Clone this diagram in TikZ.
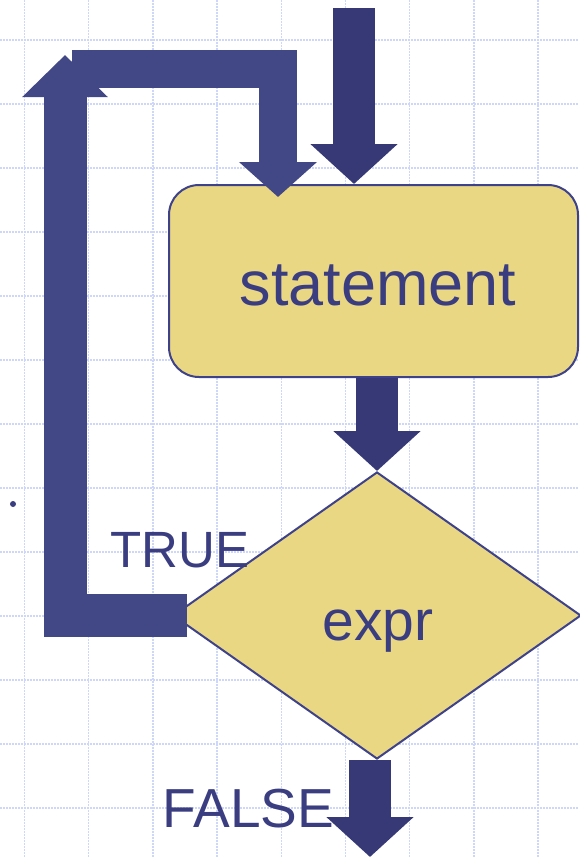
\documentclass[tikz,border=0pt]{standalone}
\usepackage{fontspec}
\setmainfont{Liberation Sans}
\usepackage{tikz}
\usetikzlibrary{arrows.meta,shapes.geometric}

\definecolor{gridc}{RGB}{206,215,250}
\definecolor{navy}{RGB}{54,57,118}
\definecolor{loopc}{RGB}{66,71,133}
\definecolor{boxfill}{RGB}{234,215,132}
\definecolor{boxline}{RGB}{62,66,138}
\definecolor{txt}{RGB}{58,61,128}

\begin{document}
\begin{tikzpicture}[x=1pt,y=-1pt]
            \tikzstyle{box}=[rectangle,rounded corners=30pt,draw=boxline,fill=boxfill,line width=2pt,minimum width=409pt,minimum height=192pt,inner sep=0pt]
            \tikzstyle{choice}=[diamond,draw=boxline,fill=boxfill,line width=2pt,minimum width=408pt,minimum height=287pt,inner sep=0pt]
            \tikzstyle{label}=[text=txt,inner sep=0pt,anchor=base]
            \tikzstyle{fat}=[navy,line width=42pt,-{Triangle[length=40pt,width=85pt]}]
            \tikzstyle{back}=[loopc,line width=38pt,-{Triangle[length=35pt,width=76pt]}]
                \useasboundingbox (0,0) rectangle (579,857);
                % grid
                \foreach \x in {0,...,8}
                    \draw[gridc,line width=1.5pt,dash pattern=on 1.5pt off 1.5pt] (24.5+64.2*\x,0) -- (24.5+64.2*\x,857);
                \foreach \y in {1,...,13}
                    \draw[gridc,line width=1.5pt,dash pattern=on 1.5pt off 1.5pt] (0,-24+64*\y) -- (579,-24+64*\y);

                \node[box] (stmt) at (373.5,281){};
                \node[choice] (cond) at (377,615.5){};
                \node[label,font=\fontsize{63}{70}\selectfont] (stmt-text) at (378,305){statement};
                \node[label,font=\fontsize{57}{64}\selectfont] (cond-text) at (378,640){expr};
                \node[label,font=\fontsize{51}{60}\selectfont] (true) at (180,567){TRUE};
                \node[label,font=\fontsize{55}{62}\selectfont] (false) at (248.5,827){FALSE};
                \fill[txt] (13,504) circle (3pt);

                \coordinate (in) at (354,8);
                \coordinate (out) at (370,857);
                \coordinate (up) at (65,55);
                \coordinate (top) at (72,68.5);
                \coordinate (back-in) at (278,197);

                \draw[fat] (in) -- (in |- stmt.north);
                \draw[fat] (stmt.south -| cond.north) -- (cond.north);
                \draw[fat] (out |- cond.south) -- (out);
                \draw[back,line width=43pt,-{Triangle[length=42pt,width=83pt]}] ([xshift=15pt]cond.west) -| (up);
                \draw[back] (top) -| (back-in);
        \end{tikzpicture}
\end{document}
